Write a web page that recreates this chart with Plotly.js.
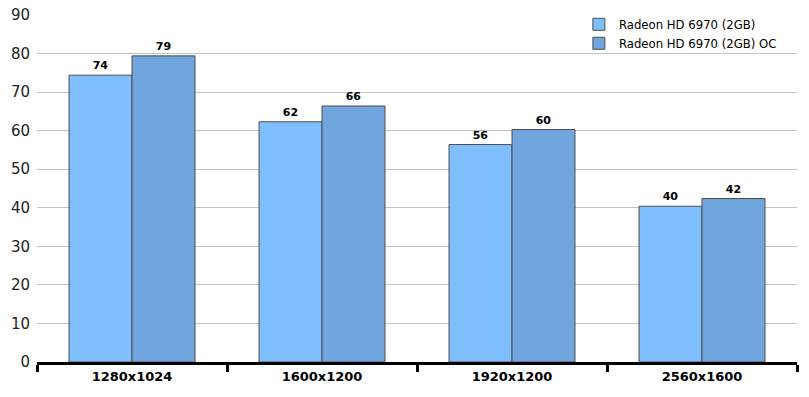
<!DOCTYPE html>
<html><head><meta charset="utf-8">
<script src="https://cdn.plot.ly/plotly-3.0.1.min.js"></script>
<style>html,body{margin:0;padding:0;background:#fff}</style>
</head><body>
<div id="chart" style="width:809px;height:397px"></div>
<script>
const categories = ["1280x1024", "1600x1200", "1920x1200", "2560x1600"];
const seriesNames = ["Radeon HD 6970 (2GB)", "Radeon HD 6970 (2GB) OC"];
const stock = [74.4, 62.3, 56.4, 40.4];
const oc = [79.4, 66.4, 60.3, 42.4];
const yTicks = [0, 10, 20, 30, 40, 50, 60, 70, 80, 90];

function mk(name, vals, color) {
  return {
    type: "bar", name: name, x: categories, y: vals,
    text: vals.map(v => "<b>" + Math.round(v) + "</b>"),
    textposition: "outside", cliponaxis: false,
    textfont: {family: "DejaVu Sans, Verdana, sans-serif", size: 11, color: "#000"},
    marker: {color: color, line: {color: "#4d4d4d", width: 1}},
    hoverinfo: "none"
  };
}
const data = [mk(seriesNames[0], stock, "#80BFFF"), mk(seriesNames[1], oc, "#70A5DD")];
const layout = {
  width: 809, height: 397,
  margin: {l: 37, r: 12, t: 15, b: 35, autoexpand: false},
  paper_bgcolor: "#fff", plot_bgcolor: "#fff",
  barmode: "group", bargap: 0.337, bargroupgap: 0,
  font: {family: "DejaVu Sans, Verdana, sans-serif", color: "#000"},
  showlegend: true,
  legend: {x: 0.713, y: 1.015, xanchor: "left", yanchor: "top", bgcolor: "rgba(0,0,0,0)",
    font: {size: 11.7, family: "DejaVu Sans, Verdana, sans-serif"}, tracegroupgap: 0, itemwidth: 30},
  xaxis: {
    type: "category", tickson: "boundaries", ticks: "outside", ticklen: 7, tickwidth: 3, tickcolor: "#000",
    showline: true, linewidth: 3, linecolor: "#000", showgrid: false, zeroline: false,
    tickfont: {size: 13, family: "DejaVu Sans, Verdana, sans-serif"},
    tickprefix: "<b>", ticksuffix: "</b>", fixedrange: true, automargin: false
  },
  yaxis: {
    range: [0, 90], tickvals: yTicks, ticktext: yTicks.map(String),
    showgrid: true, gridcolor: "#c4c4c4", gridwidth: 1, zeroline: false, showline: false,
    ticks: "", ticklabelstandoff: 6, automargin: false,
    tickfont: {size: 15, family: "DejaVu Sans, Verdana, sans-serif", color: "#222"}
  }
};
Plotly.newPlot("chart", data, layout, {displayModeBar: false, staticPlot: true});
</script>
</body></html>
